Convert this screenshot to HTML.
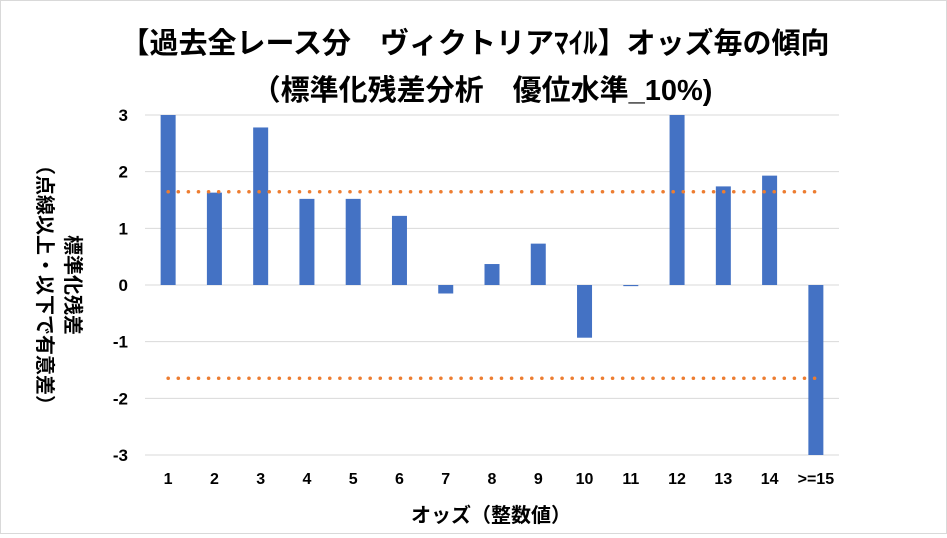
<!DOCTYPE html>
<html><head><meta charset="utf-8"><style>
body{margin:0;background:#fff;}
#wrap{position:relative;width:945px;height:532px;border:1px solid #d9d9d9;background:#fff;font-family:"Liberation Sans","Noto Sans CJK JP",sans-serif;font-weight:bold;color:#000;}
svg text{font-family:"Liberation Sans","Noto Sans CJK JP",sans-serif;font-weight:bold;}
</style></head><body>
<div id="wrap">
<svg id="chart" width="945" height="532">
<text x="474" y="52" text-anchor="middle" font-size="29">【過去全レース分　ヴィクトリアﾏｲﾙ】オッズ毎の傾向</text>
<text x="481" y="99" text-anchor="middle" font-size="29">（標準化残差分析　優位水準_10%)</text>
<g id="grid"></g><g id="bars"></g><g id="lines"></g><g id="ylabels"></g><g id="xlabels"></g>
<text x="490" y="521" text-anchor="middle" font-size="20">オッズ（整数値）</text>
<g transform="translate(58,284) rotate(90)">
<text x="0" y="-7" text-anchor="middle" font-size="20">標準化残差</text>
<text x="0" y="21" text-anchor="middle" font-size="20">（点線以上・以下で有意差）</text>
</g>
</svg>
</div>
<script>
const categories=["1","2","3","4","5","6","7","8","9","10","11","12","13","14",">=15"];
const values=[3.3,1.63,2.78,1.52,1.52,1.22,-0.15,0.37,0.73,-0.93,-0.02,3.3,1.74,1.93,-3.3];
const yTicks=[3,2,1,0,-1,-2,-3];
const thresholds=[1.645,-1.645];
const NS="http://www.w3.org/2000/svg";
const x0=144,x1=838,yMin=-3,yMax=3,yTop=114,yBot=454;
const band=(x1-x0)/categories.length;
function y(v){v=Math.max(yMin,Math.min(yMax,v));return yTop+(yMax-v)/(yMax-yMin)*(yBot-yTop);}
function xc(i){return x0+band*(i+0.5);}
function mk(t,a,p){const e=document.createElementNS(NS,t);for(const k in a)e.setAttribute(k,a[k]);p.appendChild(e);return e;}
const g=document.getElementById('grid'),yl=document.getElementById('ylabels');
yTicks.forEach(t=>{
 const l=mk('line',{x1:x0,x2:x1,y1:y(t),y2:y(t),stroke:'#d9d9d9','stroke-width':1},g);
 
 
 const tx=mk('text',{x:127,y:y(t)+6,'text-anchor':'end','font-size':17},yl);
 tx.textContent=t;
 
 
});
const b=document.getElementById('bars'),xl=document.getElementById('xlabels');
values.forEach((v,i)=>{
 const top=Math.min(y(v),y(0)),h=Math.abs(y(v)-y(0));
 const r=mk('rect',{x:xc(i)-7.5,y:top,width:15,height:Math.max(h,1),fill:'#4472c4'},b);
 
 
 const tx=mk('text',{x:xc(i),y:483,'text-anchor':'middle','font-size':16},xl);
 tx.textContent=categories[i];
 
 
});
const ln=document.getElementById('lines');
thresholds.forEach(t=>{
 const l=mk('line',{x1:xc(0),x2:xc(categories.length-1),y1:y(t),y2:y(t),stroke:'#ed7d31','stroke-width':3.5,'stroke-dasharray':'0.1 10','stroke-linecap':'round'},ln);
 
 
});
</script>
</body></html>
